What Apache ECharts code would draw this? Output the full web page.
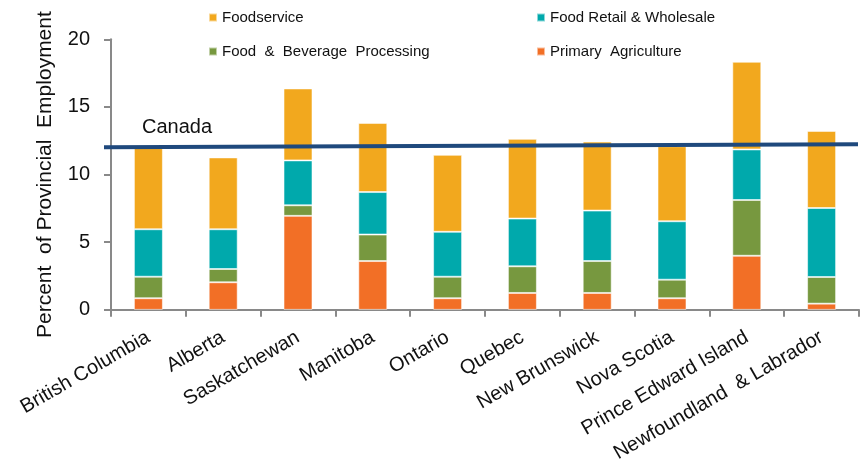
<!DOCTYPE html>
<html>
<head>
<meta charset="utf-8">
<script src="https://cdn.jsdelivr.net/npm/echarts@6/dist/echarts.min.js"></script>
<style>
  html, body { margin: 0; padding: 0; background: #fff; }
  #chart { width: 863px; height: 465px; }
</style>
</head>
<body>
<div id="chart"></div>
<script>
// Provinces along the horizontal axis
const provinces = ['British Columbia', 'Alberta', 'Saskatchewan', 'Manitoba', 'Ontario',
  'Quebec', 'New Brunswick', 'Nova Scotia', 'Prince Edward Island', 'Newfoundland  & Labrador'];

// Share of provincial employment (%) by agri-food sector
const primaryAgriculture = [0.86, 2.04, 6.95, 3.61, 0.86, 1.25, 1.25, 0.86, 4.00, 0.46];
const foodBeverageProcessing = [1.59, 0.98, 0.78, 1.96, 1.59, 1.97, 2.36, 1.37, 4.12, 1.97];
const foodRetailWholesale = [3.51, 2.94, 3.32, 3.14, 3.32, 3.53, 3.73, 4.32, 3.74, 5.10];
const foodservice = [6.04, 5.31, 5.32, 5.11, 5.69, 5.89, 5.10, 5.55, 6.48, 5.70];

// National average line (start, end)
const canadaLine = [12.05, 12.27];

// Axis ticks
const yTicks = { min: 0, max: 20, interval: 5 };

const FONT = '"Liberation Sans", Arial, sans-serif';
const colors = {
  agri: '#F26F26',
  processing: '#77983F',
  retail: '#00A9AC',
  foodservice: '#F2A81E',
  canada: '#1F497D'
};

const chart = echarts.init(document.getElementById('chart'));

function legendAt(name, left, top) {
  return {
    data: [name], left: left, top: top, padding: 0,
    icon: 'rect', itemWidth: 8, itemHeight: 8,
    selectedMode: false,
    textStyle: { fontFamily: FONT, fontSize: 15, color: '#111' }
  };
}

function barSeries(name, data, color) {
  return {
    name: name, type: 'bar', stack: 'sector', data: data,
    xAxisIndex: 0, yAxisIndex: 0,
    barWidth: 29,
    itemStyle: { color: color, borderColor: 'rgba(255,255,255,0.55)', borderWidth: 1 },
    emphasis: { disabled: true }
  };
}

chart.setOption({
  animation: false,
  backgroundColor: '#fff',
  title: {
    text: 'Canada', left: 142, top: 117, padding: 0,
    textStyle: { fontFamily: FONT, fontSize: 20, fontWeight: 'normal', color: '#111' }
  },
  legend: [
    legendAt('Foodservice', 208, 10),
    legendAt('Food Retail & Wholesale', 536, 10),
    legendAt('Food  &  Beverage  Processing', 208, 44),
    legendAt('Primary  Agriculture', 536, 44)
  ],
  grid: [
    { left: 111, right: 4, top: 39.3, bottom: 154 },
    { left: 104, right: 5, top: 39.3, bottom: 154 }
  ],
  xAxis: [
    {
      type: 'category', gridIndex: 0, data: provinces,
      axisLine: { lineStyle: { color: '#898989', width: 2 } },
      axisTick: { show: true, length: 7, lineStyle: { color: '#898989', width: 2 } },
      axisLabel: {
        interval: 0, rotate: 30, margin: 26,
        fontFamily: FONT, fontSize: 20, color: '#111'
      }
    },
    { type: 'value', gridIndex: 1, min: 0, max: 1, show: false }
  ],
  yAxis: [
    {
      type: 'value', gridIndex: 0,
      min: yTicks.min, max: yTicks.max, interval: yTicks.interval,
      name: 'Percent  of Provincial  Employment',
      nameLocation: 'middle', nameGap: 55,
      nameTextStyle: { fontFamily: FONT, fontSize: 21, color: '#111' },
      axisLine: { show: true, lineStyle: { color: '#898989', width: 2 } },
      axisTick: { show: true, length: 7, lineStyle: { color: '#898989', width: 2 } },
      axisLabel: { margin: 21, fontFamily: FONT, fontSize: 20, color: '#111' },
      splitLine: { show: false }
    },
    { type: 'value', gridIndex: 1, min: yTicks.min, max: yTicks.max, show: false }
  ],
  series: [
    barSeries('Primary  Agriculture', primaryAgriculture, colors.agri),
    barSeries('Food  &  Beverage  Processing', foodBeverageProcessing, colors.processing),
    barSeries('Food Retail & Wholesale', foodRetailWholesale, colors.retail),
    barSeries('Foodservice', foodservice, colors.foodservice),
    {
      name: 'Canada', type: 'line', xAxisIndex: 1, yAxisIndex: 1,
      data: canadaLine.map((v, i) => [i, v]),
      symbol: 'none',
      lineStyle: { color: colors.canada, width: 4 },
      emphasis: { disabled: true },
      z: 5
    }
  ]
});
</script>
</body>
</html>
